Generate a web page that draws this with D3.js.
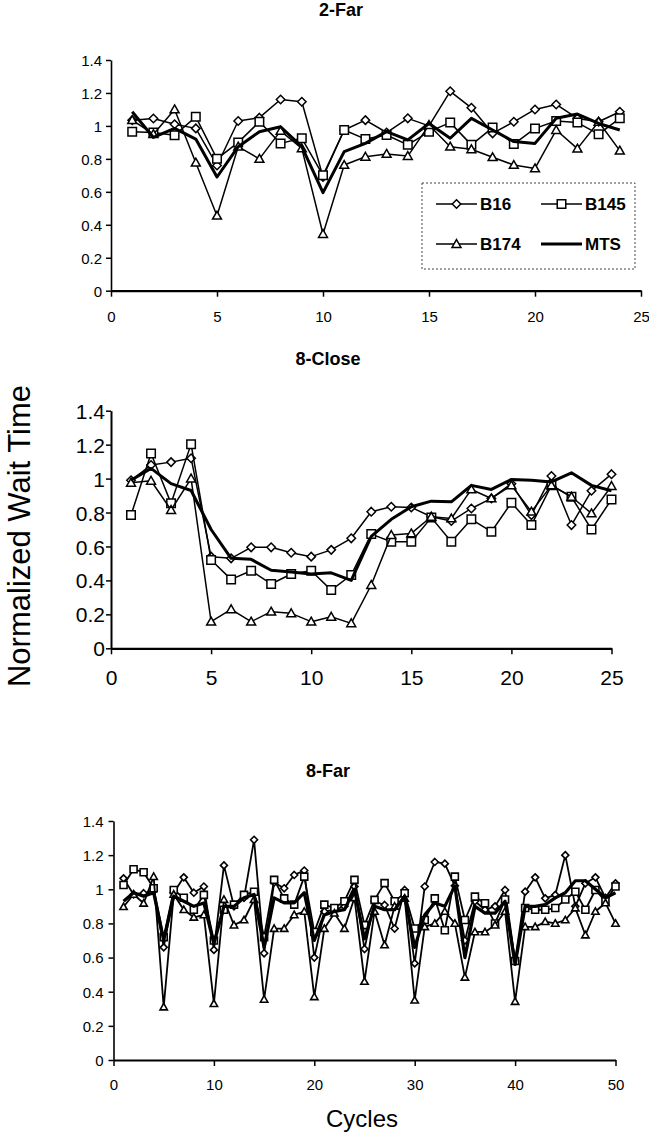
<!DOCTYPE html>
<html>
<head>
<meta charset="utf-8">
<script src="https://cdn.jsdelivr.net/npm/d3@7"></script>
<style>
  html, body { margin: 0; padding: 0; background: #fff; }
  svg { display: block; }
  text { font-family: "Liberation Sans", Arial, Helvetica, sans-serif; fill: #000; }
</style>
</head>
<body>
<svg id="chart" width="649" height="1136"></svg>
<script>
// ---------------- DATA ----------------
const seriesNames = ["B16", "B145", "B174", "MTS"];
const yTicks = [0, 0.2, 0.4, 0.6, 0.8, 1, 1.2, 1.4];
const yTickLabels = ["0", "0.2", "0.4", "0.6", "0.8", "1", "1.2", "1.4"];

// Panel 1: 2-Far (cycles 1..24)
const p1Title = "2-Far";
const p1XTicks = [0, 5, 10, 15, 20, 25];
const p1B16  = [1.035,1.045,1.01,0.985,0.76,1.03,1.05,1.16,1.147,0.69,0.975,1.035,0.96,1.046,1.0,1.21,1.11,0.955,1.025,1.10,1.13,1.045,1.025,1.086];
const p1B145 = [0.965,0.96,0.943,1.055,0.80,0.90,1.025,0.894,0.925,0.70,0.975,0.92,0.945,0.885,0.965,1.02,0.885,0.99,0.89,0.985,1.03,1.02,0.95,1.046];
const p1B174 = [1.035,0.95,1.10,0.777,0.455,0.874,0.80,0.97,0.864,0.344,0.763,0.813,0.83,0.817,1.005,0.874,0.858,0.81,0.763,0.742,0.975,0.862,1.025,0.85];
const p1MTS  = [1.086,0.93,0.985,0.92,0.69,0.874,0.965,0.995,0.874,0.595,0.844,0.894,0.965,0.915,1.015,0.925,1.046,0.975,0.905,0.894,1.046,1.072,1.015,0.975];

// Panel 2: 8-Close (cycles 1..25)
const p2Title = "8-Close";
const p2XTicks = [0, 5, 10, 15, 20, 25];
const p2B16  = [0.99,1.08,1.097,1.12,0.54,0.53,0.595,0.595,0.563,0.54,0.58,0.648,0.805,0.834,0.83,0.775,0.75,0.824,0.883,0.97,0.785,1.015,0.726,0.928,1.026];
const p2B145 = [0.785,1.148,0.854,1.203,0.52,0.406,0.457,0.379,0.438,0.457,0.343,0.432,0.673,0.628,0.628,0.77,0.628,0.76,0.687,0.858,0.726,0.96,0.893,0.70,0.877];
const p2B174 = [0.975,0.987,0.815,1.0,0.157,0.23,0.157,0.216,0.206,0.157,0.186,0.147,0.373,0.667,0.677,0.775,0.765,0.936,0.883,0.96,0.805,0.96,0.893,0.795,0.956];
const p2MTS  = [0.99,1.06,0.97,0.93,0.70,0.53,0.524,0.46,0.45,0.438,0.445,0.40,0.66,0.76,0.834,0.867,0.863,0.96,0.936,0.995,0.99,0.98,1.034,0.96,0.928];

// Panel 3: 8-Far (cycles 1..50)
const p3Title = "8-Far";
const p3XTicks = [0, 10, 20, 30, 40, 50];
const p3B16  = [1.064,0.97,0.977,0.99,0.66,0.98,1.07,0.98,1.016,0.645,1.14,0.9,0.95,1.29,0.625,1.04,1.006,1.084,1.11,0.6,0.87,0.88,0.9,1.016,0.65,0.93,0.908,0.77,0.996,0.566,1.016,1.16,1.15,1.02,0.7,0.93,0.88,0.9,0.996,0.58,0.986,1.07,0.947,0.967,1.2,0.9,1.035,1.07,0.95,1.035];
const p3B145 = [1.025,1.117,1.10,1.006,0.72,0.996,0.95,0.88,0.967,0.70,0.88,0.91,0.967,0.986,0.72,1.055,0.947,0.91,1.074,0.75,0.91,0.89,0.93,1.055,0.79,0.938,1.036,0.93,0.977,0.77,0.82,0.947,0.76,1.074,0.82,0.957,0.918,0.8,0.94,0.58,0.89,0.88,0.88,0.89,0.94,0.986,0.88,0.996,0.93,1.016];
const p3B174 = [0.898,0.97,0.918,1.074,0.31,0.97,0.88,0.836,0.85,0.33,0.94,0.79,0.82,0.94,0.355,0.77,0.77,0.85,0.87,0.37,0.77,0.86,0.77,0.95,0.46,0.87,0.674,0.9,0.947,0.35,0.78,0.8,0.87,0.8,0.484,0.75,0.75,0.79,0.87,0.342,0.78,0.78,0.81,0.8,0.82,0.89,0.732,0.87,0.92,0.8];
const p3MTS  = [0.93,0.98,0.96,0.98,0.70,0.96,0.93,0.9,0.92,0.68,0.9,0.9,0.95,0.97,0.66,0.95,0.92,0.92,0.98,0.7,0.85,0.87,0.88,1.0,0.71,0.9,0.88,0.88,0.96,0.66,0.85,0.92,0.9,1.02,0.6,0.9,0.86,0.86,0.93,0.56,0.9,0.9,0.91,0.95,0.98,1.05,1.05,1.0,0.95,0.98];

const yAxisLabel = "Normalized Wait Time";
const xAxisLabel = "Cycles";

// ---------------- DRAW ----------------
const svg = d3.select("#chart");

function markerPath(type, size) {
  const s = size / 2;
  if (type === "diamond") return `M0,${-s}L${s},0L0,${s}L${-s},0Z`;
  if (type === "square") return `M${-s},${-s}H${s}V${s}H${-s}Z`;
  if (type === "triangle") return `M0,${-s * 1.05}L${s * 1.05},${s * 0.8}L${-s * 1.05},${s * 0.8}Z`;
  return null;
}
const markerTypes = ["diamond", "square", "triangle", null];

function drawPanel(cfg) {
  const x = d3.scaleLinear().domain([0, cfg.xMax]).range([cfg.left, cfg.right]);
  const y = d3.scaleLinear().domain([0, 1.4]).range([cfg.bottom, cfg.top]);
  const g = svg.append("g");

  g.append("text").attr("x", cfg.titleX).attr("y", cfg.titleY)
    .attr("text-anchor", "middle").style("font-size", "18px").style("font-weight", "bold")
    .text(cfg.title);

  const ya = d3.axisLeft(y).tickValues(yTicks)
    .tickFormat((d, i) => yTickLabels[i]).tickSize(5).tickSizeOuter(0);
  const yg = g.append("g").attr("transform", `translate(${cfg.left},0)`).call(ya);
  yg.select(".domain").attr("stroke", "#000").attr("stroke-width", cfg.yAxisW);
  yg.selectAll(".tick line").attr("stroke", "#000").attr("stroke-width", 1.5);
  yg.selectAll(".tick text").attr("x", -cfg.yLabelGap).attr("dy", "0.36em")
    .style("font-size", cfg.tickFont + "px").style("font-family", "'Liberation Sans', Arial, sans-serif");

  const xa = d3.axisBottom(x).tickValues(cfg.xTicks).tickFormat(d3.format("d")).tickSize(6).tickSizeOuter(0);
  const xg = g.append("g").attr("transform", `translate(0,${cfg.bottom})`).call(xa);
  xg.select(".domain").attr("stroke", "#000").attr("stroke-width", 2.2);
  xg.selectAll(".tick line").attr("stroke", "#000").attr("stroke-width", 1.5);
  xg.selectAll(".tick text").attr("y", cfg.xLabelDy).attr("dy", 0)
    .style("font-size", cfg.tickFont + "px").style("font-family", "'Liberation Sans', Arial, sans-serif");

  cfg.series.forEach((vals, si) => {
    const pts = vals.map((v, i) => [i + 1, v]);
    const line = d3.line().x(d => x(d[0])).y(d => y(d[1]));
    const isMTS = si === 3;
    g.append("path").attr("d", line(pts)).attr("fill", "none").attr("stroke", "#000")
      .attr("stroke-width", isMTS ? cfg.mtsW : cfg.lineW).attr("stroke-linejoin", "round");
    const mt = markerTypes[si];
    if (mt) {
      g.selectAll(null).data(pts).enter().append("path")
        .attr("d", markerPath(mt, cfg.markSize))
        .attr("transform", d => `translate(${x(d[0])},${y(d[1])})`)
        .attr("fill", "#fff").attr("stroke", "#000").attr("stroke-width", cfg.markStroke);
    }
  });
  return { x, y, g };
}

const p1 = drawPanel({
  title: p1Title, titleX: 341, titleY: 16,
  left: 111, right: 641, bottom: 290.7, top: 60, xMax: 25, xTicks: p1XTicks,
  tickFont: 15, yLabelGap: 9, xLabelDy: 31, yAxisW: 1.6,
  series: [p1B16, p1B145, p1B174, p1MTS],
  lineW: 1.5, mtsW: 3, markSize: 8.5, markStroke: 1.5
});

(function () {
  const g = p1.g.append("g");
  g.append("rect").attr("x", 422).attr("y", 183).attr("width", 213).attr("height", 86)
    .attr("fill", "#fff").attr("stroke", "#444").attr("stroke-width", 1).attr("stroke-dasharray", "2,2");
  const items = [
    { name: seriesNames[0], type: "diamond", lx: 436, ly: 204, mts: false },
    { name: seriesNames[1], type: "square", lx: 541, ly: 204, mts: false },
    { name: seriesNames[2], type: "triangle", lx: 436, ly: 244, mts: false },
    { name: seriesNames[3], type: null, lx: 541, ly: 244, mts: true }
  ];
  items.forEach(it => {
    g.append("line").attr("x1", it.lx).attr("x2", it.lx + 41).attr("y1", it.ly).attr("y2", it.ly)
      .attr("stroke", "#000").attr("stroke-width", it.mts ? 3 : 1.5);
    if (it.type) {
      g.append("path").attr("d", markerPath(it.type, 8.5))
        .attr("transform", `translate(${it.lx + 20.5},${it.ly})`)
        .attr("fill", "#fff").attr("stroke", "#000").attr("stroke-width", 1.5);
    }
    g.append("text").attr("x", it.lx + 44).attr("y", it.ly).attr("dy", "0.36em")
      .style("font-size", "17px").style("font-weight", "bold").text(it.name);
  });
})();

drawPanel({
  title: p2Title, titleX: 328, titleY: 365,
  left: 111, right: 611.5, bottom: 648.3, top: 410.7, xMax: 25, xTicks: p2XTicks,
  tickFont: 21, yLabelGap: 6, xLabelDy: 37, yAxisW: 2,
  series: [p2B16, p2B145, p2B174, p2MTS],
  lineW: 1.5, mtsW: 3, markSize: 8.5, markStroke: 1.5
});

drawPanel({
  title: p3Title, titleX: 328, titleY: 777,
  left: 113.5, right: 615.5, bottom: 1060, top: 821, xMax: 50, xTicks: p3XTicks,
  tickFont: 15, yLabelGap: 10, xLabelDy: 30, yAxisW: 1.6,
  series: [p3B16, p3B145, p3B174, p3MTS],
  lineW: 1.8, mtsW: 3.2, markSize: 7, markStroke: 1.6
});

svg.append("text").attr("transform", "translate(30,536) rotate(-90)")
  .attr("text-anchor", "middle").style("font-size", "31px").text(yAxisLabel);
svg.append("text").attr("x", 362).attr("y", 1127)
  .attr("text-anchor", "middle").style("font-size", "24px").text(xAxisLabel);
</script>
</body>
</html>
